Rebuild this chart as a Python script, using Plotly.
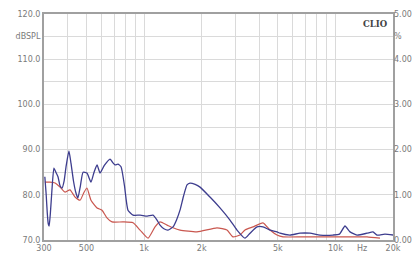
import plotly.graph_objects as go

# Blue curve (Hz, dBSPL)
blue_f = [303, 308, 312, 316, 319, 324, 330, 338, 346, 355, 364, 373, 382, 392, 405, 415, 428, 440,
          451, 465, 480, 503, 528, 548, 568, 589, 620, 664, 690, 705, 730, 758, 790, 824, 876,
          953, 1040, 1114, 1169, 1212, 1270, 1334, 1417, 1480, 1541, 1610, 1677, 1738,
          1850, 1961, 2211, 2494, 2813, 3060, 3369, 3579, 3893, 4184, 4553, 4953, 5136, 5791,
          6531, 7365, 8309, 9714, 10500, 11223, 11921, 12966, 14624, 15726, 16501, 18164, 20000]
blue_db = [84.0, 80.0, 76.0, 73.5, 73.1, 76.0, 81.0, 85.9, 85.0, 84.0, 82.0, 81.5, 83.0, 86.5, 89.7, 87.0, 83.0, 80.5,
           79.3, 82.0, 85.0, 84.8, 82.8, 85.0, 86.6, 84.8, 86.5, 87.9, 87.0, 86.6, 86.8, 86.2, 82.0, 76.6, 75.5,
           75.5, 75.3, 75.5, 74.4, 73.3, 72.5, 72.2, 72.9, 74.5, 76.6, 79.8, 82.2, 82.6,
           82.3, 81.7, 79.5, 77.1, 74.4, 72.2, 70.4, 71.5, 72.9, 72.9, 72.2, 71.8, 71.5, 71.1,
           71.5, 71.5, 71.1, 71.1, 71.3, 73.1, 71.8, 71.1, 71.5, 71.8, 71.1, 71.3, 71.1]

# Red curve (Hz, dBSPL)
red_f = [303, 322, 343, 364, 386, 410, 436, 463, 485, 503, 528, 568, 603, 640, 680, 776, 876,
         953, 1049, 1141, 1212, 1318, 1417, 1541, 1891, 2406, 2713, 2916, 3173, 3369, 3711,
         4184, 4553, 4953, 5326, 6772, 9370, 12353, 14624, 17100]
red_db = [82.8, 82.8, 82.6, 81.7, 80.6, 81.1, 79.5, 78.8, 80.5, 81.5, 78.8, 77.1, 76.6, 74.9, 74.0, 74.0, 73.8,
          72.2, 70.4, 72.9, 74.0, 73.3, 72.7, 72.2, 71.8, 72.7, 72.2, 70.7, 71.1, 72.2, 72.9,
          73.8, 72.2, 71.1, 70.7, 70.7, 70.7, 70.7, 70.7, 70.4]

# Axis ticks
x_grid = [300, 400, 500, 600, 700, 800, 900, 1000, 2000, 3000, 4000, 5000, 6000, 7000,
          8000, 9000, 10000, 20000]
x_labels = {300: "300", 500: "500", 1000: "1k", 2000: "2k", 5000: "5k", 10000: "10k", 20000: "20k"}
y_grid = [70, 75, 80, 85, 90, 95, 100, 105, 110, 115, 120]
y_labels = {70: "70.0", 80: "80.0", 90: "90.0", 100: "100.0", 110: "110.0", 115: "dBSPL", 120: "120.0"}
y2_grid = [0, 0.5, 1, 1.5, 2, 2.5, 3, 3.5, 4, 4.5, 5]
y2_labels = {0: "0.00", 1: "1.00", 2: "2.00", 3: "3.00", 4: "4.00", 4.5: "%", 5: "5.00"}

FONT = dict(family="DejaVu Sans", size=8, color="#7a7a7a")

fig = go.Figure()
fig.add_trace(go.Scatter(x=red_f, y=red_db, mode="lines",
                         line=dict(color="#c9574f", width=1.2, shape="spline", smoothing=0.5),
                         showlegend=False))
fig.add_trace(go.Scatter(x=blue_f, y=blue_db, mode="lines",
                         line=dict(color="#3d3d8e", width=1.3, shape="spline", smoothing=0.5),
                         showlegend=False))
# invisible trace to anchor right axis
fig.add_trace(go.Scatter(x=[300], y=[0], yaxis="y2", mode="markers",
                         marker=dict(opacity=0), showlegend=False, hoverinfo="skip"))

fig.update_layout(
    width=413, height=256,
    margin=dict(l=44, r=20, t=14, b=16, autoexpand=False),
    paper_bgcolor="white", plot_bgcolor="white",
    font=FONT,
    xaxis=dict(type="log", range=[2.4771, 4.30103], automargin=False,
               tickvals=x_grid, ticktext=[x_labels.get(v, "") for v in x_grid],
               showgrid=True, gridcolor="#dadada", gridwidth=1,
               showline=True, linecolor="#a0a0a0", linewidth=1.5, mirror=True,
               ticks="", ticklen=0, tickfont=FONT, zeroline=False),
    yaxis=dict(range=[70, 120], automargin=False,
               tickvals=y_grid, ticktext=[y_labels.get(v, "") for v in y_grid],
               showgrid=True, gridcolor="#dadada", gridwidth=1,
               showline=True, linecolor="#a0a0a0", linewidth=2, mirror=True,
               ticks="", tickfont=FONT, zeroline=False),
    yaxis2=dict(range=[0, 5], overlaying="y", side="right", automargin=False,
                tickvals=y2_grid, ticktext=[y2_labels.get(v, "") for v in y2_grid],
                showgrid=False, showline=False, ticks="", tickfont=FONT, zeroline=False),
    annotations=[
        dict(text="Hz", x=4.139, y=0, xref="x", yref="paper", yanchor="top", yshift=-2,
             showarrow=False, font=FONT),
        dict(text="<b>CLIO</b>", x=0.99, y=0.985, xref="paper", yref="paper",
             xanchor="right", yanchor="top", showarrow=False,
             font=dict(family="DejaVu Serif", size=8.5, color="#444444")),
    ],
)

fig.write_html("out.html", config={"displayModeBar": False},
               post_script="document.body.style.margin='0';")
